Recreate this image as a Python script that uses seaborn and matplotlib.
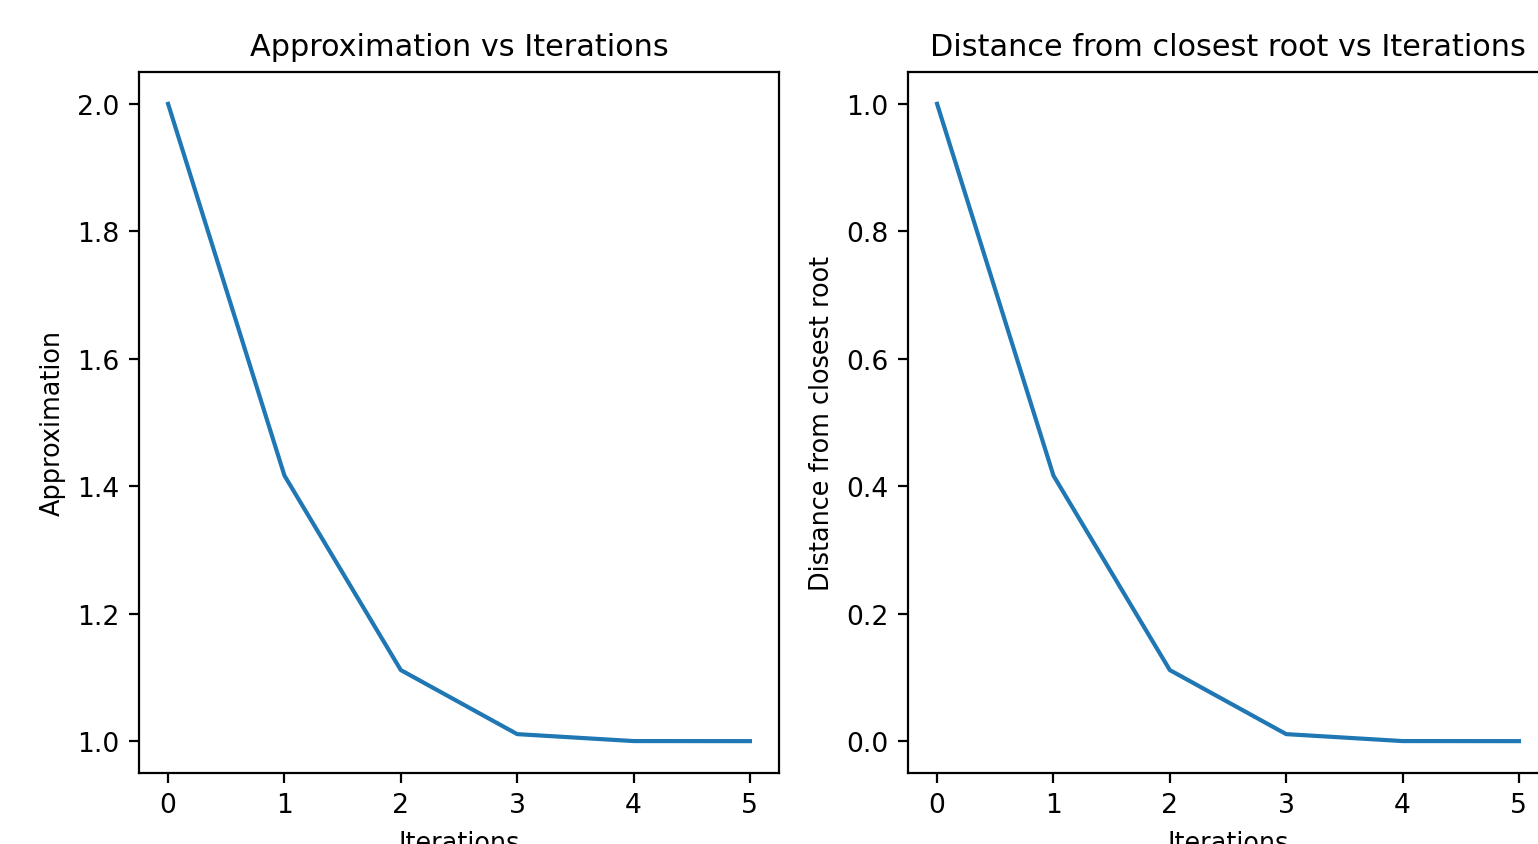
import matplotlib
matplotlib.use("Agg")
import matplotlib.pyplot as plt
import seaborn as sns
import pandas as pd

iterations = [0, 1, 2, 3, 4, 5]
approximation = [2.0, 1.4167, 1.1115, 1.0110, 1.0001, 1.0]
distance = [1.0, 0.4167, 0.1115, 0.0110, 0.0001, 0.0]

df = pd.DataFrame({"Iterations": iterations, "Approximation": approximation,
                   "Distance": distance})

plt.rcParams['font.family'] = ['DejaVu Sans']
fig = plt.figure(figsize=(7.69, 4.225), dpi=200)
W, H = 1538, 845
ax1 = fig.add_axes([139 / W, 1 - 774 / H, 640 / W, 701 / H])
ax2 = fig.add_axes([908 / W, 1 - 774 / H, 640 / W, 701 / H])

title_fs = 10.9
label_fs = 9.2

sns.lineplot(data=df, x="Iterations", y="Approximation", ax=ax1, color="#1f77b4")
ax1.set_title("Approximation vs Iterations", fontsize=title_fs)
ax1.set_xlabel("Iterations", fontsize=label_fs)
ax1.set_ylabel("Approximation", fontsize=label_fs)

sns.lineplot(data=df, x="Iterations", y="Distance", ax=ax2, color="#1f77b4")
ax2.set_title("Distance from closest root vs Iterations", fontsize=title_fs)
ax2.set_xlabel("Iterations", fontsize=label_fs)
ax2.set_ylabel("Distance from closest root", fontsize=label_fs)

for ax in (ax1, ax2):
    ax.tick_params(labelsize=9.6)

fig.savefig("out.png", dpi=200)
